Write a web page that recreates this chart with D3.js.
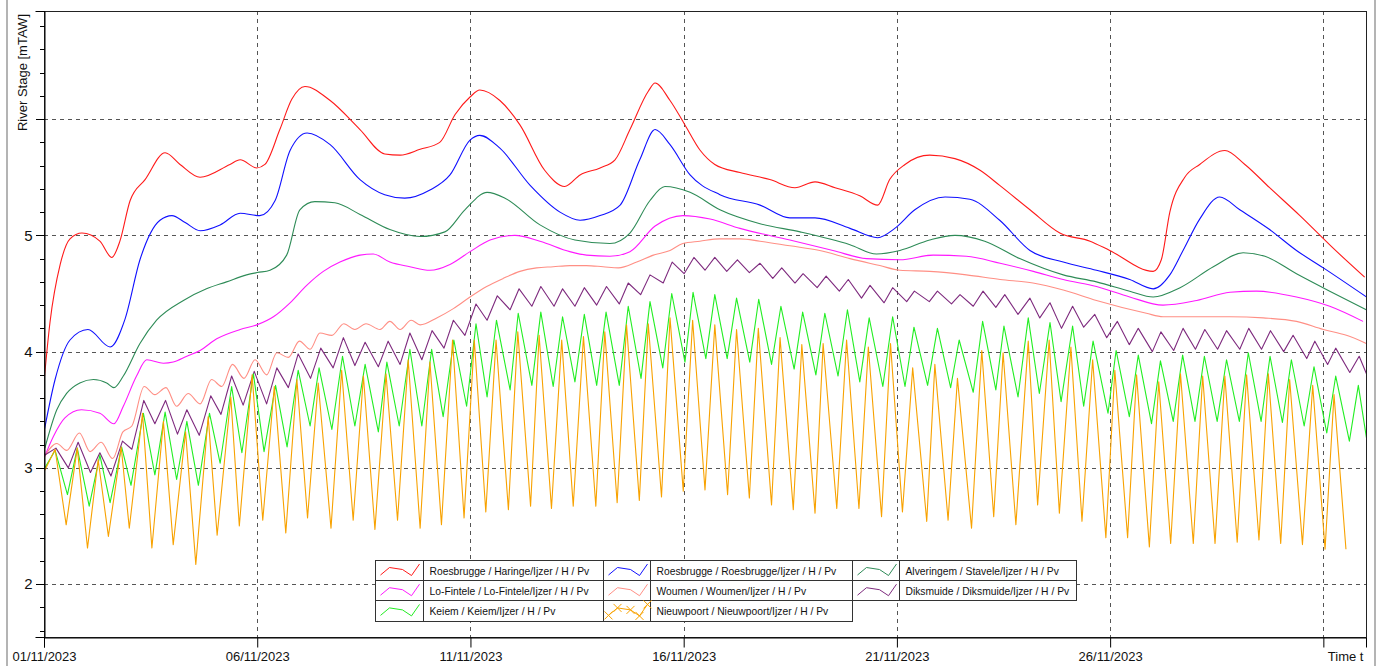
<!DOCTYPE html>
<html>
<head>
<meta charset="utf-8">
<script src="https://cdn.jsdelivr.net/npm/d3@7"></script>
<style>
  body { margin: 0; background: #fff; }
  svg { display: block; font-family: "Liberation Sans", Arial, sans-serif; }
</style>
</head>
<body>
<svg id="chart" width="1379" height="666"></svg>
<script>
// River stage series, [day since 01/11/2023 00:00, stage in mTAW]
const haringe = [[0,3.74],[0.14,4.25],[0.38,4.75],[0.61,4.97],[0.89,5.02],[1.31,4.95],[1.59,4.81],[1.78,4.95],[2.02,5.30],[2.37,5.48],[2.84,5.71],[3.19,5.61],[3.66,5.50],[4.36,5.61],[4.60,5.65],[4.99,5.58],[5.18,5.61],[5.53,5.91],[5.81,6.17],[6.12,6.28],[6.71,6.16],[7.41,5.91],[7.99,5.70],[8.35,5.69],[8.82,5.74],[9.28,5.80],[9.64,6.04],[9.99,6.19],[10.22,6.25],[10.69,6.16],[11.16,5.95],[11.74,5.56],[12.21,5.42],[12.57,5.52],[13.04,5.58],[13.39,5.65],[13.74,5.91],[14.17,6.24],[14.33,6.31],[14.68,6.16],[15.03,5.95],[15.39,5.73],[15.73,5.61],[16.32,5.54],[17.02,5.48],[17.61,5.41],[18.08,5.46],[18.55,5.41],[19.13,5.34],[19.55,5.26],[19.83,5.48],[20.19,5.61],[20.77,5.69],[21.36,5.66],[21.95,5.56],[22.41,5.43],[23.12,5.22],[23.82,5.02],[24.53,4.95],[24.99,4.87],[26.01,4.69],[26.20,4.79],[26.40,5.20],[26.75,5.50],[27.10,5.61],[27.69,5.73],[28.16,5.61],[28.74,5.41],[29.45,5.17],[30.23,4.89],[30.97,4.64]];

const roesbrugge = [[0,3.31],[0.26,3.76],[0.61,4.10],[1.03,4.19],[1.55,4.04],[1.90,4.28],[2.25,4.79],[2.72,5.13],[3.00,5.17],[3.31,5.11],[3.66,5.04],[4.13,5.09],[4.60,5.19],[5.06,5.17],[5.42,5.30],[5.77,5.73],[6.17,5.88],[6.71,5.78],[7.41,5.48],[7.99,5.35],[8.46,5.32],[9.05,5.39],[9.52,5.52],[9.99,5.82],[10.22,5.86],[10.69,5.75],[11.40,5.43],[12.10,5.20],[12.57,5.13],[13.04,5.17],[13.51,5.26],[13.97,5.65],[14.33,5.91],[14.68,5.78],[15.15,5.52],[15.85,5.35],[16.79,5.26],[17.49,5.15],[18.08,5.15],[18.90,5.06],[19.55,4.98],[19.95,5.06],[20.42,5.22],[21.13,5.33],[21.71,5.31],[22.41,5.13],[23.12,4.87],[23.90,4.77],[24.68,4.70],[25.46,4.62],[26.01,4.54],[26.40,4.66],[26.71,4.87],[27.10,5.14],[27.57,5.33],[28.04,5.22],[28.74,5.05],[29.37,4.87],[30.00,4.72],[31.01,4.47]];

const stavele = [[0.02,3.17],[0.30,3.50],[0.53,3.64],[0.84,3.73],[1.16,3.76],[1.47,3.73],[1.64,3.69],[1.86,3.79],[2.25,4.07],[2.64,4.27],[3.27,4.44],[3.81,4.54],[4.28,4.60],[4.75,4.66],[5.00,4.68],[5.30,4.70],[5.69,4.83],[6.00,5.22],[6.35,5.29],[6.82,5.28],[7.41,5.18],[8.11,5.05],[8.82,4.99],[9.40,5.03],[9.87,5.22],[10.39,5.37],[10.81,5.32],[11.63,5.09],[12.45,4.96],[13.27,4.93],[13.74,5.02],[14.21,5.30],[14.56,5.42],[15.15,5.37],[15.85,5.22],[16.79,5.10],[17.73,5.03],[18.90,4.92],[19.52,4.84],[20.07,4.87],[20.77,4.96],[21.36,5.00],[22.06,4.95],[22.88,4.80],[23.90,4.66],[24.68,4.60],[25.46,4.52],[26.01,4.47],[26.64,4.55],[27.42,4.73],[28.12,4.85],[28.63,4.82],[29.37,4.67],[30.15,4.52],[31.01,4.36]];

const loFintele = [[0.02,3.10],[0.22,3.27],[0.49,3.43],[0.88,3.50],[1.31,3.47],[1.64,3.38],[1.86,3.53],[2.17,3.79],[2.41,3.93],[2.80,3.90],[3.03,3.91],[3.35,3.96],[3.66,4.01],[4.05,4.11],[4.60,4.19],[4.99,4.23],[5.38,4.30],[5.77,4.42],[6.16,4.57],[6.55,4.69],[6.94,4.77],[7.41,4.83],[7.72,4.84],[8.11,4.77],[8.58,4.73],[9.05,4.70],[9.52,4.75],[9.99,4.86],[10.46,4.96],[11.04,5.00],[11.63,4.95],[12.33,4.86],[12.72,4.83],[13.27,4.82],[13.74,4.86],[14.33,5.08],[14.98,5.17],[15.62,5.14],[16.32,5.06],[17.49,4.96],[18.50,4.87],[19.29,4.80],[20.07,4.79],[20.85,4.83],[21.63,4.82],[22.42,4.76],[23.20,4.69],[23.90,4.62],[24.68,4.56],[25.46,4.47],[26.24,4.40],[27.03,4.44],[27.81,4.51],[28.43,4.52],[29.37,4.47],[30.15,4.39],[30.93,4.26]];

const woumen = [[0,3.09],[0.30,3.21],[0.53,3.15],[0.83,3.30],[1.08,3.14],[1.34,3.22],[1.61,3.08],[1.85,3.31],[2.06,3.36],[2.35,3.70],[2.60,3.63],[2.86,3.69],[3.11,3.53],[3.38,3.64],[3.66,3.55],[3.93,3.76],[4.17,3.70],[4.42,3.89],[4.69,3.77],[4.95,3.93],[5.22,3.80],[5.46,3.99],[5.73,3.95],[5.99,4.09],[6.24,4.02],[6.47,4.16],[6.75,4.14],[7.03,4.24],[7.29,4.19],[7.55,4.24],[7.88,4.19],[8.11,4.26],[8.35,4.19],[8.61,4.27],[8.82,4.23],[9.21,4.29],[9.60,4.37],[9.99,4.47],[10.38,4.56],[10.77,4.63],[11.16,4.69],[11.55,4.72],[11.94,4.73],[12.33,4.74],[12.72,4.74],[13.11,4.73],[13.47,4.72],[13.90,4.77],[14.29,4.83],[14.68,4.87],[14.98,4.93],[15.38,4.95],[15.85,4.97],[16.32,4.97],[16.79,4.95],[17.49,4.91],[18.19,4.87],[18.90,4.80],[19.60,4.74],[20.07,4.70],[20.77,4.69],[21.63,4.66],[22.42,4.62],[23.19,4.59],[23.90,4.53],[24.68,4.44],[25.85,4.33],[26.24,4.30],[27.03,4.30],[27.81,4.30],[28.59,4.29],[29.37,4.26],[30.00,4.19],[30.54,4.14],[31.01,4.07]];

const diksmuide = [[0.02,3.11],[0.28,3.17],[0.57,3.00],[0.80,3.22],[1.09,2.96],[1.31,3.13],[1.57,2.93],[1.84,3.23],[2.06,3.16],[2.34,3.58],[2.60,3.38],[2.85,3.58],[3.13,3.29],[3.35,3.50],[3.64,3.28],[3.91,3.62],[4.15,3.46],[4.40,3.79],[4.67,3.54],[4.93,3.83],[5.22,3.55],[5.46,3.86],[5.73,3.69],[5.96,3.98],[6.25,3.77],[6.49,4.03],[6.78,3.86],[7.02,4.12],[7.29,3.88],[7.53,4.08],[7.84,3.87],[8.07,4.09],[8.35,3.89],[8.58,4.16],[8.86,3.93],[9.10,4.18],[9.38,4.03],[9.60,4.27],[9.87,4.14],[10.13,4.41],[10.39,4.27],[10.63,4.48],[10.93,4.36],[11.14,4.54],[11.44,4.39],[11.65,4.56],[11.96,4.39],[12.16,4.54],[12.45,4.39],[12.67,4.55],[12.96,4.40],[13.19,4.56],[13.49,4.41],[13.70,4.59],[13.99,4.49],[14.21,4.66],[14.52,4.59],[14.73,4.77],[15.01,4.67],[15.24,4.81],[15.50,4.70],[15.73,4.81],[16.01,4.69],[16.26,4.79],[16.54,4.68],[16.79,4.76],[17.09,4.63],[17.30,4.72],[17.61,4.59],[17.80,4.67],[18.13,4.55],[18.34,4.65],[18.65,4.52],[18.86,4.62],[19.17,4.46],[19.37,4.57],[19.70,4.42],[19.90,4.55],[20.23,4.43],[20.41,4.52],[20.76,4.43],[20.95,4.52],[21.28,4.41],[21.48,4.49],[21.79,4.39],[22.02,4.52],[22.32,4.38],[22.53,4.49],[22.84,4.32],[23.12,4.46],[23.35,4.29],[23.59,4.42],[23.86,4.20],[24.12,4.39],[24.38,4.21],[24.64,4.32],[24.92,4.12],[25.17,4.26],[25.45,4.06],[25.66,4.20],[25.99,4.00],[26.19,4.17],[26.49,4.01],[26.71,4.20],[27.00,4.02],[27.22,4.19],[27.52,4.02],[27.73,4.18],[28.04,4.02],[28.25,4.20],[28.55,4.02],[28.76,4.18],[29.07,4.00],[29.29,4.14],[29.61,3.94],[29.80,4.09],[30.10,3.89],[30.29,4.03],[30.62,3.82],[30.84,3.96],[31.01,3.81]];

const keiem = [[0.02,3.00],[0.26,3.15],[0.55,2.77],[0.78,3.17],[1.06,2.67],[1.31,3.11],[1.55,2.70],[1.82,3.18],[2.04,2.85],[2.33,3.47],[2.60,2.94],[2.84,3.48],[3.11,2.90],[3.35,3.40],[3.62,2.85],[3.88,3.47],[4.13,3.04],[4.40,3.70],[4.64,3.13],[4.91,3.81],[5.16,3.14],[5.43,3.71],[5.70,3.18],[5.96,3.84],[6.24,3.36],[6.45,3.86],[6.75,3.33],[7.00,3.96],[7.29,3.36],[7.53,3.89],[7.84,3.31],[8.04,3.91],[8.33,3.36],[8.58,4.02],[8.86,3.36],[9.09,4.02],[9.36,3.44],[9.61,4.10],[9.91,3.53],[10.13,4.24],[10.39,3.61],[10.61,4.27],[10.93,3.67],[11.12,4.33],[11.44,3.71],[11.65,4.34],[11.94,3.70],[12.16,4.30],[12.45,3.74],[12.67,4.32],[12.96,3.71],[13.18,4.34],[13.49,3.71],[13.70,4.39],[14.00,3.77],[14.21,4.43],[14.51,3.86],[14.72,4.50],[15.03,3.91],[15.22,4.51],[15.52,3.94],[15.73,4.49],[16.02,3.94],[16.24,4.46],[16.55,3.91],[16.76,4.45],[17.06,3.89],[17.28,4.39],[17.59,3.85],[17.79,4.34],[18.10,3.80],[18.31,4.33],[18.62,3.79],[18.84,4.36],[19.13,3.74],[19.35,4.29],[19.67,3.70],[19.90,4.30],[20.19,3.70],[20.40,4.21],[20.72,3.71],[20.95,4.20],[21.26,3.69],[21.46,4.10],[21.79,3.65],[22.01,4.26],[22.32,3.67],[22.51,4.22],[22.84,3.61],[23.08,4.29],[23.34,3.64],[23.59,4.25],[23.85,3.57],[24.12,4.22],[24.38,3.53],[24.60,4.09],[24.95,3.47],[25.14,4.01],[25.45,3.44],[25.66,3.97],[25.97,3.38],[26.18,3.92],[26.48,3.40],[26.70,3.97],[26.99,3.40],[27.21,3.96],[27.51,3.40],[27.73,3.93],[28.03,3.40],[28.24,3.99],[28.54,3.40],[28.75,3.96],[29.04,3.39],[29.25,3.93],[29.55,3.36],[29.78,3.87],[30.08,3.30],[30.29,3.79],[30.61,3.23],[30.82,3.71],[31.01,3.26]];

const nieuwpoort = [[0.02,2.98],[0.26,3.16],[0.52,2.51],[0.78,3.17],[1.02,2.31],[1.27,3.07],[1.51,2.41],[1.81,3.18],[2.00,2.48],[2.31,3.47],[2.53,2.31],[2.80,3.40],[3.03,2.34],[3.32,3.31],[3.56,2.17],[3.85,3.44],[4.06,2.42],[4.38,3.61],[4.58,2.50],[4.88,3.80],[5.13,2.55],[5.40,3.70],[5.67,2.44],[5.93,3.76],[6.18,2.57],[6.43,3.73],[6.73,2.48],[6.98,3.84],[7.25,2.55],[7.49,3.79],[7.76,2.47],[8.02,3.81],[8.29,2.55],[8.54,3.93],[8.82,2.48],[9.05,3.91],[9.32,2.51],[9.58,4.10],[9.85,2.57],[10.09,4.10],[10.36,2.62],[10.60,4.10],[10.89,2.64],[11.11,4.17],[11.41,2.67],[11.61,4.14],[11.90,2.65],[12.14,4.10],[12.41,2.67],[12.65,4.13],[12.94,2.67],[13.15,4.17],[13.44,2.70],[13.66,4.23],[13.96,2.72],[14.17,4.24],[14.48,2.75],[14.68,4.29],[14.99,2.80],[15.21,4.27],[15.50,2.81],[15.73,4.23],[16.03,2.77],[16.24,4.19],[16.54,2.74],[16.75,4.20],[17.06,2.68],[17.26,4.12],[17.57,2.64],[17.77,4.06],[18.08,2.61],[18.27,4.07],[18.59,2.65],[18.82,4.10],[19.11,2.65],[19.33,4.04],[19.64,2.58],[19.85,4.07],[20.13,2.62],[20.37,3.86],[20.70,2.54],[20.89,3.89],[21.20,2.55],[21.42,3.77],[21.75,2.48],[21.99,4.01],[22.27,2.58],[22.49,3.99],[22.79,2.51],[23.08,4.09],[23.30,2.68],[23.57,4.10],[23.81,2.61],[24.08,4.04],[24.34,2.54],[24.59,3.93],[24.90,2.40],[25.11,3.84],[25.41,2.40],[25.62,3.80],[25.92,2.32],[26.14,3.74],[26.42,2.35],[26.65,3.81],[26.95,2.35],[27.17,3.79],[27.46,2.35],[27.69,3.79],[27.98,2.36],[28.20,3.80],[28.49,2.38],[28.71,3.81],[29.00,2.35],[29.21,3.76],[29.51,2.34],[29.75,3.71],[30.04,2.30],[30.25,3.63],[30.53,2.30]];

// Axis labels
const dayTicks = [0, 5, 10, 15, 20, 25, 30];
const dayTickLabels = ["01/11/2023", "06/11/2023", "11/11/2023", "16/11/2023", "21/11/2023", "26/11/2023", "Time t"];
const stageTicks = [2, 3, 4, 5, 6];
const stageTickLabels = ["2", "3", "4", "5", ""];
const stageTitle = "River Stage [mTAW]";

const legendLabels = [
  "Roesbrugge / Haringe/Ijzer / H / Pv",
  "Roesbrugge / Roesbrugge/Ijzer / H / Pv",
  "Alveringem / Stavele/Ijzer / H / Pv",
  "Lo-Fintele / Lo-Fintele/Ijzer / H / Pv",
  "Woumen / Woumen/Ijzer / H / Pv",
  "Diksmuide / Diksmuide/Ijzer / H / Pv",
  "Keiem / Keiem/Ijzer / H / Pv",
  "Nieuwpoort / Nieuwpoort/Ijzer / H / Pv"
];

// Drawing order and styling; the upstream gauges are drawn smooth, the tidal ones point to point
const series = [
  { data: haringe,    color: "#ff1a1a", smooth: true },
  { data: roesbrugge, color: "#1010ff", smooth: true },
  { data: stavele,    color: "#2e8b57", smooth: true },
  { data: loFintele,  color: "#ff19ff", smooth: true },
  { data: woumen,     color: "#ff8f85", smooth: true },
  { data: diksmuide,  color: "#7e2a7e" },
  { data: keiem,      color: "#22ee22" },
  { data: nieuwpoort, color: "#f8a200", markers: true }
];

const plot = { left: 44, right: 1366, top: 11, bottom: 637 };
const svg = d3.select("#chart");

const x = d3.scaleLinear().domain([0, 31]).range([plot.left, plot.right]);
const y = d3.scaleLinear().domain([1.545, 6.93]).range([plot.bottom, plot.top]);

// window frame edges
svg.append("line").attr("x1", 7).attr("x2", 7).attr("y1", 0).attr("y2", 666)
  .attr("stroke", "#b4b4b4").attr("stroke-width", 2);
svg.append("line").attr("x1", 1375).attr("x2", 1375).attr("y1", 0).attr("y2", 666)
  .attr("stroke", "#b4b4b4").attr("stroke-width", 2);

// dashed grid
const grid = svg.append("g").attr("stroke", "#555").attr("stroke-dasharray", "4,4")
  .attr("shape-rendering", "crispEdges");
grid.selectAll("line.h").data(stageTicks).join("line").attr("class", "h")
  .attr("x1", plot.left).attr("x2", plot.right)
  .attr("y1", d => Math.round(y(d)) + 0.5).attr("y2", d => Math.round(y(d)) + 0.5);
grid.selectAll("line.v").data(dayTicks.filter(d => d > 0)).join("line").attr("class", "v")
  .attr("y1", plot.top).attr("y2", plot.bottom)
  .attr("x1", d => Math.round(x(d)) + 0.5).attr("x2", d => Math.round(x(d)) + 0.5);

// series
svg.append("clipPath").attr("id", "plotclip").append("rect")
  .attr("x", plot.left).attr("y", plot.top)
  .attr("width", plot.right - plot.left).attr("height", plot.bottom - plot.top);
const smoothLine = d3.line().x(d => x(d[0])).y(d => y(d[1])).curve(d3.curveMonotoneX);
const sharpLine = d3.line().x(d => x(d[0])).y(d => y(d[1]));
svg.append("g").attr("clip-path", "url(#plotclip)")
  .selectAll("path").data(series).join("path")
  .attr("d", s => (s.smooth ? smoothLine : sharpLine)(s.data))
  .attr("fill", "none")
  .attr("stroke", s => s.color)
  .attr("stroke-width", 1.1)
  .attr("stroke-linejoin", "round");

// plot frame
svg.append("rect")
  .attr("x", plot.left + 0.5).attr("y", plot.top + 0.5)
  .attr("width", plot.right - plot.left).attr("height", plot.bottom - plot.top)
  .attr("fill", "none").attr("stroke", "#222").attr("shape-rendering", "crispEdges");

// left axis: major ticks plus minor ticks every 0.2
const minorTicks = d3.range(16, 70, 2).map(v => v / 10).filter(v => stageTicks.indexOf(v) < 0);
const yMinor = svg.append("g").attr("transform", `translate(${plot.left + 0.5},0)`)
  .call(d3.axisLeft(y).tickValues(minorTicks).tickSize(5).tickFormat(""));
yMinor.select(".domain").remove();
const yAxis = svg.append("g").attr("transform", `translate(${plot.left + 0.5},0)`)
  .call(d3.axisLeft(y).tickValues(stageTicks).tickSize(9).tickPadding(3)
    .tickFormat((d, i) => stageTickLabels[i]));
yAxis.select(".domain").attr("stroke", "#000");
svg.selectAll(".tick line").attr("stroke", "#000").attr("shape-rendering", "crispEdges");
yAxis.selectAll("text").attr("font-size", 15).attr("fill", "#111")
  .attr("font-family", "'Liberation Sans', Arial, sans-serif");

// bottom axis
const xAxis = svg.append("g").attr("transform", `translate(0,${plot.bottom + 0.5})`)
  .call(d3.axisBottom(x).tickValues(dayTicks).tickSize(10).tickPadding(4)
    .tickFormat((d, i) => dayTickLabels[i]));
xAxis.select(".domain").attr("stroke", "#000");
xAxis.selectAll(".tick line").attr("stroke", "#000");
xAxis.selectAll("text").attr("font-size", 13).attr("fill", "#111")
  .attr("font-family", "'Liberation Sans', Arial, sans-serif");
xAxis.selectAll("text").filter((d, i) => i === dayTicks.length - 1)
  .attr("text-anchor", "start").attr("x", 4);

// axis title
svg.append("text")
  .attr("transform", "translate(27,14) rotate(-90)")
  .attr("text-anchor", "end")
  .attr("font-size", 13).attr("fill", "#111")
  .text(stageTitle);

// legend table
const legend = { top: 560.5, rowH: 20.2, cols: [[375.5, 423.5, 603.5], [603.5, 650.5, 852.5], [852.5, 899.5, 1076.5]] };
const lg = svg.append("g");
const swatchPts = [[5, 14.5], [14, 7], [27, 9], [36, 15], [44, 3.5]];
legendLabels.forEach((label, i) => {
  const row = Math.floor(i / 3), col = i % 3;
  const [sx, tx, ex] = legend.cols[col];
  const ry = legend.top + row * legend.rowH;
  const g = lg.append("g");
  g.append("rect").attr("x", sx).attr("y", ry).attr("width", tx - sx).attr("height", legend.rowH)
    .attr("fill", "#fff").attr("stroke", "#333").attr("shape-rendering", "crispEdges");
  g.append("rect").attr("x", tx).attr("y", ry).attr("width", ex - tx).attr("height", legend.rowH)
    .attr("fill", "#fff").attr("stroke", "#333").attr("shape-rendering", "crispEdges");
  const pts = swatchPts.map(p => [sx + p[0], ry + p[1]]);
  g.append("path").attr("d", d3.line()(pts)).attr("fill", "none")
    .attr("stroke", series[i].color).attr("stroke-width", 1);
  if (series[i].markers) {
    pts.forEach(p => {
      g.append("path")
        .attr("d", `M${p[0] - 4},${p[1] - 4}L${p[0] + 4},${p[1] + 4}M${p[0] - 4},${p[1] + 4}L${p[0] + 4},${p[1] - 4}`)
        .attr("stroke", series[i].color).attr("stroke-width", 1).attr("fill", "none");
    });
  }
  g.append("text").attr("x", tx + 6).attr("y", ry + 14.5)
    .attr("font-size", 10.3).attr("fill", "#111").text(label);
});
</script>
</body>
</html>
